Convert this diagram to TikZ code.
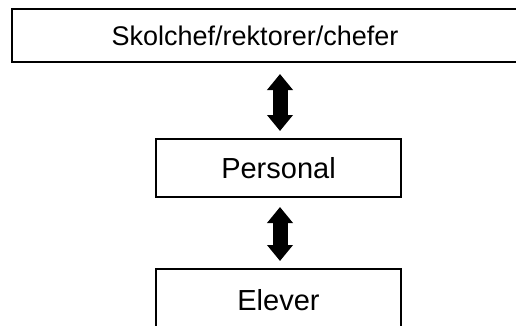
\documentclass[tikz,border=0pt]{standalone}
\usepackage{fontspec}
\setmainfont{Liberation Sans}
\usetikzlibrary{arrows.meta}

\tikzset{
  level/.style={draw,line width=2pt,minimum width=245pt,minimum height=58pt,
    inner sep=0pt,font=\fontsize{29}{34}\selectfont},
  twoway/.style={line width=15pt,{Triangle[width=25pt,length=16pt]}-{Triangle[width=25pt,length=16pt]}}
}

\begin{document}
\begin{tikzpicture}[x=1pt,y=-1pt]
    \useasboundingbox (0,0) rectangle (516,325);

    % Nivåer
    \node[level,minimum width=530pt,minimum height=53pt,font=\fontsize{27}{32}\selectfont] (chef) at (277,35.5)
      {\hspace*{-44pt}Skolchef/rektorer/chefer};
    \node[level] (pers) at (278.5,168) {Personal};
    \node[level,minimum height=62pt] (elev) at (278.5,300) {Elever};

    % Pilar
    \draw[twoway,shorten <=11pt,shorten >=7pt] (pers.north |- chef.south) ++(1.5,0) coordinate (a1) -- (a1 |- pers.north);
    \draw[twoway,shorten <=9pt,shorten >=7pt] ([xshift=1.5pt]pers.south) -- ([xshift=1.5pt]elev.north);
\end{tikzpicture}
\end{document}
